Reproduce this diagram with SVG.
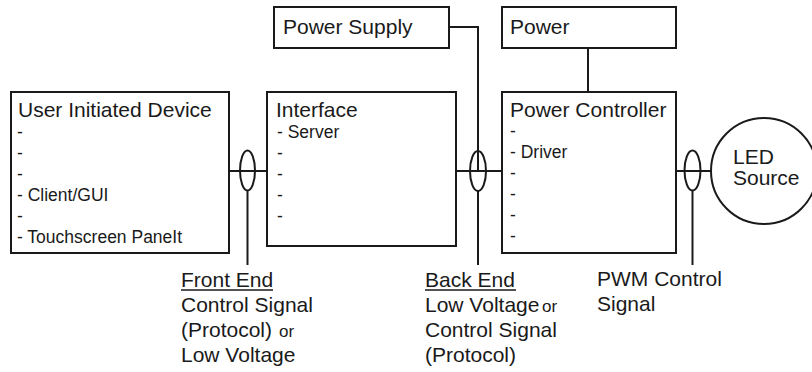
<svg xmlns="http://www.w3.org/2000/svg" width="812" height="372" viewBox="0 0 812 372">
<style>
text{font-family:"Liberation Sans",Arial,Helvetica,sans-serif;fill:#1a1a1a}
.t{font-size:21px}
.i{font-size:17.5px}
.l{font-size:21px}
.s{font-size:17px}
.box{fill:#fff;stroke:#1a1a1a;stroke-width:2}
.ln{fill:none;stroke:#1a1a1a;stroke-width:2}
.ul{stroke:#1a1a1a;stroke-width:1.5}
</style>
<rect width="812" height="372" fill="#fff"/>
<g id="connectors">
<line class="ln" x1="229" y1="171" x2="267" y2="171"/>
<ellipse class="ln" cx="247.5" cy="170.5" rx="7.5" ry="20"/>
<line class="ln" x1="247.5" y1="190.5" x2="247.5" y2="265"/>
<polyline class="ln" points="449,27 478,27 478,171"/>
<line class="ln" x1="456" y1="171" x2="502" y2="171"/>
<ellipse class="ln" cx="478" cy="171" rx="8" ry="20"/>
<line class="ln" x1="478" y1="191" x2="478" y2="265"/>
<line class="ln" x1="588" y1="48" x2="588" y2="92"/>
<line class="ln" x1="676" y1="171" x2="711" y2="171"/>
<ellipse class="ln" cx="692.5" cy="170.5" rx="8" ry="20"/>
<line class="ln" x1="692.5" y1="190.5" x2="692.5" y2="265"/>
</g>
<g id="user-initiated-device">
<rect class="box" x="11" y="92" width="218" height="161"/>
<text class="t" x="18" y="117">User Initiated Device</text>
<text class="i" x="17" y="138">-</text>
<text class="i" x="17" y="159">-</text>
<text class="i" x="17" y="180">-</text>
<text class="i" x="17" y="201">- Client/GUI</text>
<text class="i" x="17" y="222">-</text>
<text class="i" x="17" y="243">- Touchscreen PaneIt</text>
</g>
<g id="interface">
<rect class="box" x="267" y="92" width="189" height="154"/>
<text class="t" x="276" y="117">Interface</text>
<text class="i" x="277" y="138">- Server</text>
<text class="i" x="277" y="159">-</text>
<text class="i" x="277" y="180">-</text>
<text class="i" x="277" y="201">-</text>
<text class="i" x="277" y="222">-</text>
</g>
<g id="power-supply">
<rect class="box" x="274" y="7" width="175" height="41"/>
<text class="t" x="283" y="34">Power Supply</text>
</g>
<g id="power">
<rect class="box" x="502" y="7" width="174" height="41"/>
<text class="t" x="510" y="34">Power</text>
</g>
<g id="power-controller">
<rect class="box" x="502" y="92" width="174" height="161"/>
<text class="t" x="510" y="117">Power Controller</text>
<text class="i" x="510" y="137">-</text>
<text class="i" x="510" y="158">- Driver</text>
<text class="i" x="510" y="179">-</text>
<text class="i" x="510" y="200">-</text>
<text class="i" x="510" y="221">-</text>
<text class="i" x="510" y="242">-</text>
</g>
<g id="led-source">
<circle class="box" cx="764" cy="171" r="53"/>
<text class="t" x="733" y="164">LED</text>
<text class="t" x="733" y="185">Source</text>
</g>
<g id="front-end-label">
<text class="l" x="181" y="287">Front End</text>
<line class="ul" x1="181" y1="290" x2="273" y2="290"/>
<text class="l" x="181" y="312">Control Signal</text>
<text class="l" x="181" y="337">(Protocol)</text>
<text class="s" x="279" y="337">or</text>
<text class="l" x="181" y="362">Low Voltage</text>
</g>
<g id="back-end-label">
<text class="l" x="425" y="287">Back End</text>
<line class="ul" x1="425" y1="290" x2="516" y2="290"/>
<text class="l" x="425" y="312">Low Voltage</text>
<text class="s" x="542" y="312">or</text>
<text class="l" x="425" y="337">Control Signal</text>
<text class="l" x="425" y="362">(Protocol)</text>
</g>
<g id="pwm-label">
<text class="l" x="597" y="286">PWM Control</text>
<text class="l" x="597" y="311">Signal</text>
</g>
</svg>
